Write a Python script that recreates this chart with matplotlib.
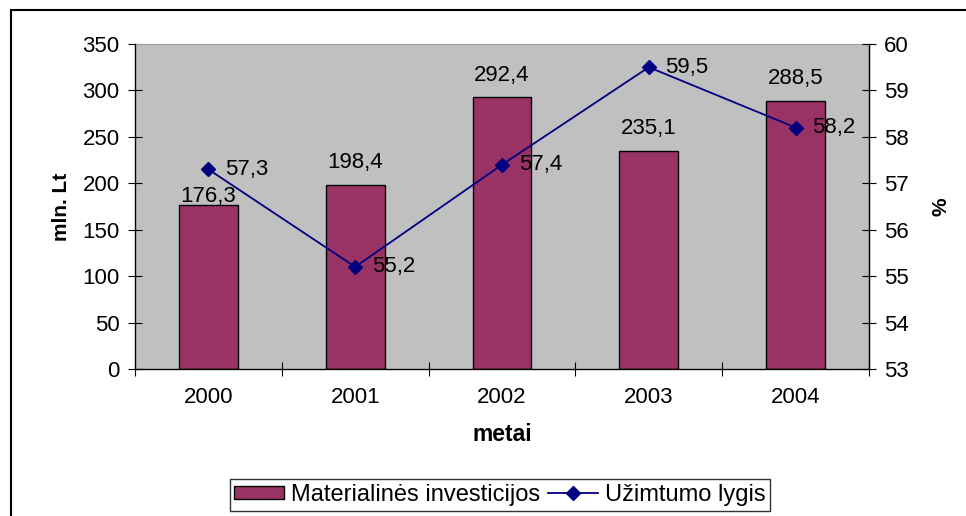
import numpy as np
import matplotlib.pyplot as plt
from matplotlib.patches import Rectangle

plt.rcParams['font.family'] = ['Liberation Sans', 'DejaVu Sans']

years = ['2000', '2001', '2002', '2003', '2004']
investicijos = [176.3, 198.4, 292.4, 235.1, 288.5]
uzimtumas = [57.3, 55.2, 57.4, 59.5, 58.2]
bar_label_gap = [6, 16, 16, 16, 16]  # points from bar top to label centre

fs = 16
bar_color = '#993366'
line_color = '#000080'

fig = plt.figure(figsize=(9.66, 5.16), dpi=100)
fig.patches.append(Rectangle((11/966, -0.1), 1.2, 1 - 10/516 + 0.1,
                             transform=fig.transFigure, fill=False,
                             edgecolor='black', linewidth=1.5))

ax = fig.add_axes([135/966, 1 - 369/516, (869 - 135)/966, (369 - 44)/516])
ax.set_facecolor('#C0C0C0')
x = np.arange(len(years))
ax.bar(x, investicijos, width=0.4, color=bar_color, edgecolor='black',
       linewidth=1.0, label='Materialinės investicijos', zorder=2)
ax.set_xlim(-0.5, len(years) - 0.5)
ax.set_ylim(0, 350)
ax.set_yticks(np.arange(0, 351, 50))
ax.set_xticks(np.arange(-0.5, len(years), 1.0))
ax.set_xticklabels([])
ax.set_xticks(x, minor=True)
ax.set_xticklabels(years, minor=True)
ax.tick_params(axis='x', which='major', direction='inout', length=10, width=0.8)
ax.tick_params(axis='x', which='minor', length=0, pad=13, labelsize=fs)
ax.tick_params(axis='y', direction='inout', length=10, width=0.8, pad=6, labelsize=fs)
ax.spines['top'].set_color('#A0A0A0')
for s in ['left', 'bottom', 'right']:
    ax.spines[s].set_linewidth(0.9)

for xi, v, g in zip(x, investicijos, bar_label_gap):
    ax.annotate(f'{v:.1f}'.replace('.', ','), (xi, v), xytext=(0, g),
                textcoords='offset points', ha='center', va='center', fontsize=fs)

ax.set_ylabel('mln. Lt', fontsize=15, fontweight='bold', labelpad=8)
ax.set_xlabel('metai', fontsize=16.5, fontweight='bold', labelpad=11)

ax2 = ax.twinx()
ax2.plot(x, uzimtumas, color=line_color, linewidth=1.3, marker='D',
         markersize=7, label='Užimtumo lygis', zorder=3)
ax2.set_ylim(53, 60)
ax2.set_yticks(np.arange(53, 61, 1))
ax2.tick_params(axis='y', direction='inout', length=10, width=0.8, pad=6, labelsize=fs)
ax2.spines['top'].set_visible(False)
ax2.spines['right'].set_linewidth(0.9)
ax2.set_ylabel('%', fontsize=15, fontweight='bold', labelpad=16)

for xi, v in zip(x, uzimtumas):
    ax2.annotate(f'{v:.1f}'.replace('.', ','), (xi, v), xytext=(12, 0),
                 textcoords='offset points', ha='left', va='center', fontsize=fs)

h1, l1 = ax.get_legend_handles_labels()
h2, l2 = ax2.get_legend_handles_labels()
fig.legend(h1 + h2, l1 + l2, loc='center', bbox_to_anchor=(500/966, 1 - 495/516),
           ncol=2, fontsize=17, frameon=True, fancybox=False, edgecolor='black',
           handlelength=2.1, handleheight=0.5, columnspacing=0.35, handletextpad=0.3,
           borderpad=0.2, borderaxespad=0)

fig.savefig('out.png', dpi=100)
